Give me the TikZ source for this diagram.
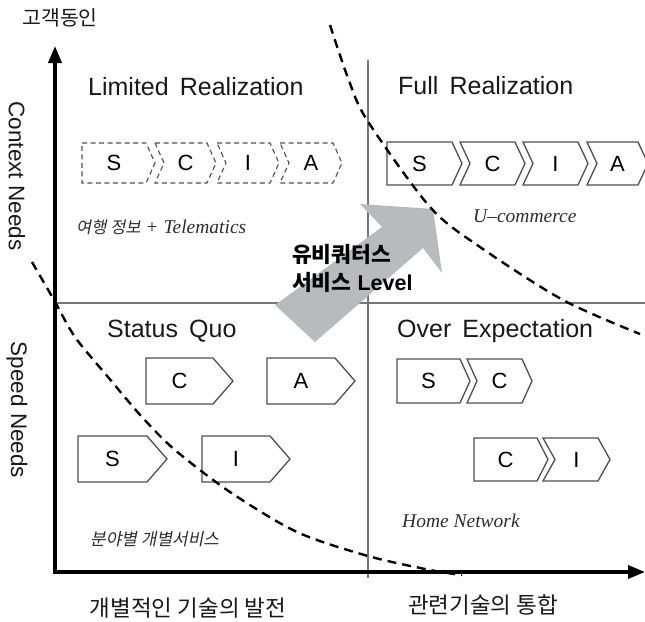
\documentclass[tikz,border=0pt]{standalone}
\usepackage{fontspec}
\setmainfont{Liberation Sans}
\newfontfamily\kr{Noto Sans CJK KR}
\newfontfamily\krsl[FakeSlant=0.2]{Noto Sans CJK KR}
\newfontfamily\rmit{Liberation Serif}
\usetikzlibrary{arrows.meta,positioning}
\definecolor{arrowgray}{RGB}{185,186,190}
\definecolor{divgray}{RGB}{118,118,118}
\definecolor{boxgray}{RGB}{80,80,80}
\definecolor{inkgray}{RGB}{45,45,45}

\begin{document}
\begin{tikzpicture}[x=1pt, y=-1pt, >={Triangle[length=17pt,width=13pt]},
    axis/.style={line width=3.6pt, line join=miter},
    split/.style={draw=divgray, line width=1.4pt},
    frontier/.style={line width=2.4pt, dash pattern=on 9pt off 6pt},
    quad/.style={anchor=base west, inner sep=0pt, text=black!90, font=\fontsize{25}{25}\selectfont},
    needs/.style={rotate=-90, text=black!90, font=\fontsize{22.5}{22.5}\selectfont},
    tech/.style={text=black!90, font=\kr\fontsize{22.5}{22.5}\selectfont},
    example/.style={anchor=base west, inner sep=0pt, text=inkgray, font=\rmit\itshape\fontsize{19.5}{19.5}\selectfont},
    level/.style={anchor=base west, inner sep=0pt, font=\bfseries\fontsize{21.5}{21.5}\selectfont},
    letter/.style={inner sep=0pt, font=\fontsize{22}{22}\selectfont},
    solidbox/.style={draw=boxgray, line width=1.3pt, fill=white},
    dashbox/.style={draw=boxgray, line width=1.1pt, dash pattern=on 5pt off 3.5pt},
    pics/pent/.style n args={4}{code={
        \draw[pic actions] (0,0) -- (#1,0) -- (#1+#3,#2/2) -- (#1,#2) -- (0,#2) -- cycle;
        \node[letter] (-l) at ({#1/2},{#2/2}) {#4};}},
    pics/chev/.style n args={4}{code={
        \draw[pic actions] (0,0) -- (#1,0) -- (#1+#3,#2/2) -- (#1,#2) -- (0,#2) -- (#3,#2/2) -- cycle;
        \node[letter] (-l) at ({(#1+#3)/2},{#2/2}) {#4};}}]
    \useasboundingbox (0,0) rectangle (645,621);

    % quadrants
    \draw[split] (368,60) -- (368,578);
    \draw[split] (55,303) -- (645,303);
    \fill[arrowgray] (275,305) -- (382,227) -- (360,204) -- (433,209) -- (442,273) -- (423,248) -- (315,342) -- cycle;

    \node[quad] (limited) at (88,95)  {Limited\, Realization};
    \node[quad] (full)    at (398,94) {Full\, Realization};
    \node[quad] (status)  at (107,337) {Status\, Quo};
    \node[quad] (over)    at (397,337) {Over\, Expectation};

    \node[level] (ubi1) at (292,262) {\kr 유비쿼터스};
    \node[level] (ubi2) [below=28pt of ubi1.base west, anchor=base west] {{\kr 서비스} Level};

    \node[example] (travel) at (76,233)  {{\krsl\fontsize{16.5}{16.5}\selectfont 여행 정보} + Telematics};
    \node[example] (ucom)   at (473,222) {U–commerce};
    \node[example] (field)  at (90,545)  {\krsl\fontsize{17}{17}\selectfont 분야별 개별서비스};
    \node[example] (home)   at (402,527) {Home Network};

    % value chains
    \pic[dashbox] (tl-s) at (82,143)  {pent={64}{40}{9}{S}};
    \pic[dashbox] (tl-c) at (155,143) {chev={52}{40}{9}{C}};
    \pic[dashbox] (tl-i) at (217,143) {chev={53}{40}{9}{I}};
    \pic[dashbox] (tl-a) at (280,143) {chev={53}{40}{9}{A}};

    \pic[solidbox] (tr-s) at (387,142) {pent={65}{43}{10}{S}};
    \pic[solidbox] (tr-c) at (460,142) {chev={55}{43}{10}{C}};
    \pic[solidbox] (tr-i) at (523,142) {chev={55}{43}{10}{I}};
    \pic[solidbox] (tr-a) at (587,142) {chev={51}{43}{10}{A}};

    \pic[solidbox] (sq-c) at (146,358) {pent={67}{46}{20}{C}};
    \pic[solidbox] (sq-a) at (267,358) {pent={68}{46}{20}{A}};
    \pic[solidbox] (sq-s) at (78,436)  {pent={69}{46}{20}{S}};
    \pic[solidbox] (sq-i) at (202,436) {pent={68}{46}{20}{I}};

    \pic[solidbox] (oe-s)  at (397,359) {pent={63}{44}{10}{S}};
    \pic[solidbox] (oe-c)  at (467,359) {chev={55}{44}{10}{C}};
    \pic[solidbox] (oe-c2) at (474,438) {pent={63}{43}{11}{C}};
    \pic[solidbox] (oe-i)  at (543,438) {chev={55}{43}{12}{I}};

    % axes
    \coordinate (origin) at (55,572);
    \coordinate (ytip) at (55,46);
    \coordinate (xtip) at (645,572);
    \draw[axis, <->] (ytip) -- (origin) -- (xtip);

    \node[tech, font=\kr\fontsize{20.5}{20.5}\selectfont] (driver) at (60,18) {고객동인};
    \node[needs] (context) at (17,176) {Context Needs};
    \node[needs] (speed)   at (17,410) {Speed Needs};
    \node[tech] (separate) at (188,608) {개별적인 기술의 발전};
    \node[tech] (merge)    at (483,605) {관련기술의 통합};

    % frontiers
    \draw[frontier] plot[smooth] coordinates {(330,25) (348,78) (367,120) (430,207) (480,247) (563,300) (640,334)};
    \draw[frontier] plot[smooth] coordinates {(32,262) (54,300) (75,337) (108,377) (142,417) (175,450) (230,492) (297,532) (368,556) (430,570) (462,575)};
\end{tikzpicture}
\end{document}
